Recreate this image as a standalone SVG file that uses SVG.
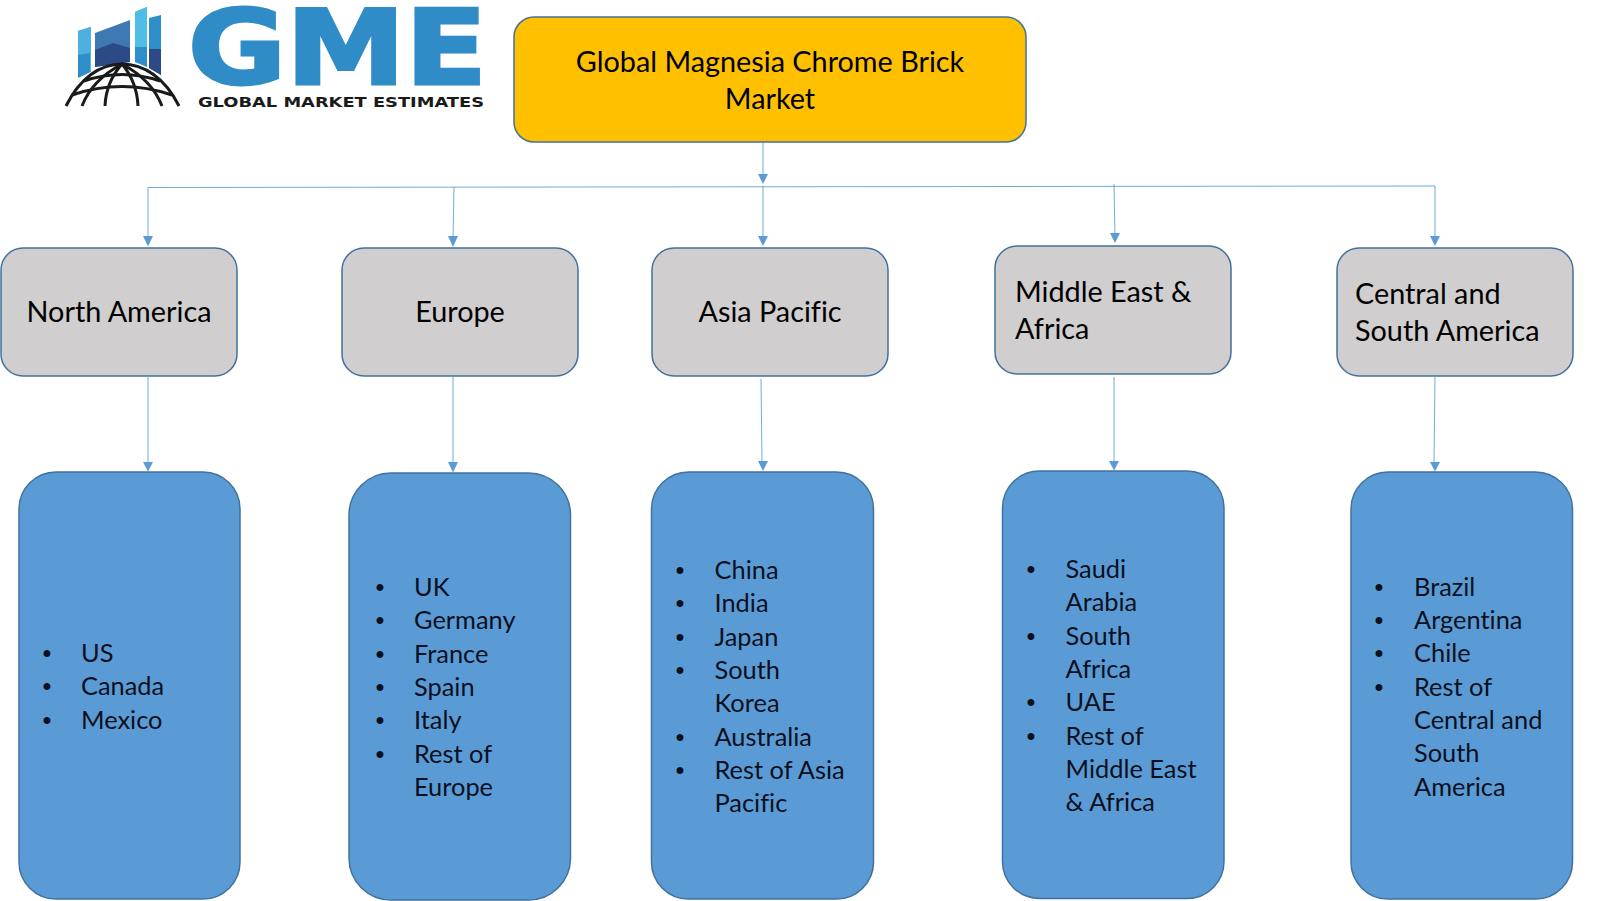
<svg xmlns="http://www.w3.org/2000/svg" width="1599" height="901" viewBox="0 0 1599 901">
<style>
text{font-family:Lato,"Open Sans","Liberation Sans",sans-serif;fill:#000;font-variant-ligatures:none}
.t{font-size:28.8px;text-anchor:middle}
.h{font-size:28.8px}
.l text{font-size:25.4px;fill:#0b1020}
.l .b{font-family:"Liberation Sans",sans-serif;text-anchor:middle}
.grey{fill:#d0cece;stroke:#41719c;stroke-width:1.5}
.blue{fill:#5b9bd5;stroke:#41719c;stroke-width:1.5}
.c{stroke:#5b9bd5;stroke-width:1;fill:none;opacity:.85}
.a{fill:#5b9bd5}
.logo{font-family:"DejaVu Sans",sans-serif;font-weight:bold}
</style>
<rect width="1599" height="901" fill="#fff"/>
<g id="logo">
<polygon points="78,31 90.7,27 90.7,72 78,78" fill="#2e8ec9"/>
<polygon points="78,31 90.7,27 90.7,53 78,55" fill="#4db0de"/>
<polygon points="95,33 130,20 130,62 95,67" fill="#3f79b4"/>
<polygon points="95,50 113,43 130,48 130,62 95,67" fill="#2c4a86"/>
<polygon points="135,12 147,7 147,67 135,62" fill="#2e8ec9"/>
<polygon points="135,12 147,7 147,47 135,47" fill="#4fbde6"/>
<polygon points="149,18 161,15 161,75 149,68" fill="#2e8ec9"/>
<polygon points="149,49 161,49 161,75 149,68" fill="#2c4a86"/>
<g fill="none" stroke="#1a1a1a" stroke-width="3">
<path d="M66,106C80,78 100,64 122,64C144,64 165,78 179,106" fill="#fff"/>
<path d="M84,81Q122,68 160,81M72,95Q122,78 172,95"/>
<path d="M82,106Q92,80 122,64Q152,80 162,106M105,106Q106,82 122,64Q137,82 138,106"/>
</g>
<text class="logo" x="188" y="83.500" font-size="103" textLength="299" lengthAdjust="spacingAndGlyphs" style="fill:#2f8cc6;stroke:#2f8cc6;stroke-width:3">GME</text>
<text class="logo" x="198" y="107" font-size="13.800" textLength="286" lengthAdjust="spacingAndGlyphs" style="fill:#1a1a1a">GLOBAL MARKET ESTIMATES</text>
</g>
<g id="connectors">
<path class="c" d="M763,137V178M148,187.500L1435,186M148,187.500V240M454,187L453,240M763,186V240M1114,184L1115,238M1435,186V240M148,377V462M453,377V462M761,379L762,461M1114,377V462M1435,377L1434,462"/>
<g class="a">
<polygon points="758,174 768,174 763,184"/>
<polygon points="143,236 153,236 148,246.500"/>
<polygon points="448,236 458,236 453,247"/>
<polygon points="758,236 768,236 763,246"/>
<polygon points="1110,233 1120,233 1115,243"/>
<polygon points="1430,236 1440,236 1435,246"/>
<polygon points="143,462 153,462 148,471.500"/>
<polygon points="448,462 458,462 453,472.500"/>
<polygon points="758,461 768,461 763,471"/>
<polygon points="1109,461 1119,461 1114,470.500"/>
<polygon points="1430,462 1440,462 1435,471.500"/>
</g>
</g>
<g id="title"><rect x="514" y="17" width="512" height="125" rx="20" fill="#ffc000" stroke="#41719c" stroke-width="1.5"/><text class="t" x="770" y="72">Global Magnesia Chrome Brick</text><text class="t" x="770" y="109">Market</text></g>
<g id="north-america"><rect class="grey" x="1" y="248" width="236" height="128" rx="22"/><text class="t" x="119" y="322">North America</text></g>
<g id="europe"><rect class="grey" x="342" y="248" width="236" height="128" rx="22"/><text class="t" x="460" y="322">Europe</text></g>
<g id="asia-pacific"><rect class="grey" x="652" y="248" width="236" height="128" rx="22"/><text class="t" x="770" y="322">Asia Pacific</text></g>
<g id="middle-east-africa"><rect class="grey" x="995" y="246" width="236" height="128" rx="22"/><text class="h" x="1015" y="302">Middle East &amp;</text><text class="h" x="1015" y="339">Africa</text></g>
<g id="central-south-america"><rect class="grey" x="1337" y="248" width="236" height="128" rx="22"/><text class="h" x="1355" y="304">Central and</text><text class="h" x="1355" y="341">South America</text></g>
<g id="north-america-list" class="l"><rect class="blue" x="19" y="472" width="221" height="427" rx="37"/>
<text class="b" x="47" y="661.500">•</text><text x="81" y="661.500">US</text>
<text class="b" x="47" y="695">•</text><text x="81" y="695">Canada</text>
<text class="b" x="47" y="728.500">•</text><text x="81" y="728.500">Mexico</text></g>
<g id="europe-list" class="l"><rect class="blue" x="349" y="473" width="221.500" height="427" rx="42"/>
<text class="b" x="380" y="596">•</text><text x="414" y="596">UK</text>
<text class="b" x="380" y="629.300">•</text><text x="414" y="629.300">Germany</text>
<text class="b" x="380" y="662.600">•</text><text x="414" y="662.600">France</text>
<text class="b" x="380" y="696">•</text><text x="414" y="696">Spain</text>
<text class="b" x="380" y="729.300">•</text><text x="414" y="729.300">Italy</text>
<text class="b" x="380" y="762.600">•</text><text x="414" y="762.600">Rest of</text>
<text x="414" y="796">Europe</text></g>
<g id="asia-pacific-list" class="l"><rect class="blue" x="651.500" y="472" width="222" height="427" rx="37"/>
<text class="b" x="680" y="579">•</text><text x="714.500" y="579">China</text>
<text class="b" x="680" y="612.300">•</text><text x="714.500" y="612.300">India</text>
<text class="b" x="680" y="645.600">•</text><text x="714.500" y="645.600">Japan</text>
<text class="b" x="680" y="679">•</text><text x="714.500" y="679">South</text>
<text x="714.500" y="712.300">Korea</text>
<text class="b" x="680" y="745.600">•</text><text x="714.500" y="745.600">Australia</text>
<text class="b" x="680" y="779">•</text><text x="714.500" y="779">Rest of Asia</text>
<text x="714.500" y="812.300">Pacific</text></g>
<g id="middle-east-africa-list" class="l"><rect class="blue" x="1002.500" y="471" width="221.500" height="427.500" rx="37"/>
<text class="b" x="1031" y="578">•</text><text x="1065.500" y="578">Saudi</text>
<text x="1065.500" y="611.300">Arabia</text>
<text class="b" x="1031" y="644.600">•</text><text x="1065.500" y="644.600">South</text>
<text x="1065.500" y="678">Africa</text>
<text class="b" x="1031" y="711.300">•</text><text x="1065.500" y="711.300">UAE</text>
<text class="b" x="1031" y="744.600">•</text><text x="1065.500" y="744.600">Rest of</text>
<text x="1065.500" y="778">Middle East</text>
<text x="1065.500" y="811.300">&amp; Africa</text></g>
<g id="central-south-america-list" class="l"><rect class="blue" x="1351" y="472" width="221.500" height="427" rx="37"/>
<text class="b" x="1379" y="595.500">•</text><text x="1414" y="595.500">Brazil</text>
<text class="b" x="1379" y="628.800">•</text><text x="1414" y="628.800">Argentina</text>
<text class="b" x="1379" y="662">•</text><text x="1414" y="662">Chile</text>
<text class="b" x="1379" y="695.500">•</text><text x="1414" y="695.500">Rest of</text>
<text x="1414" y="728.800">Central and</text>
<text x="1414" y="762">South</text>
<text x="1414" y="795.500">America</text></g>
</svg>
